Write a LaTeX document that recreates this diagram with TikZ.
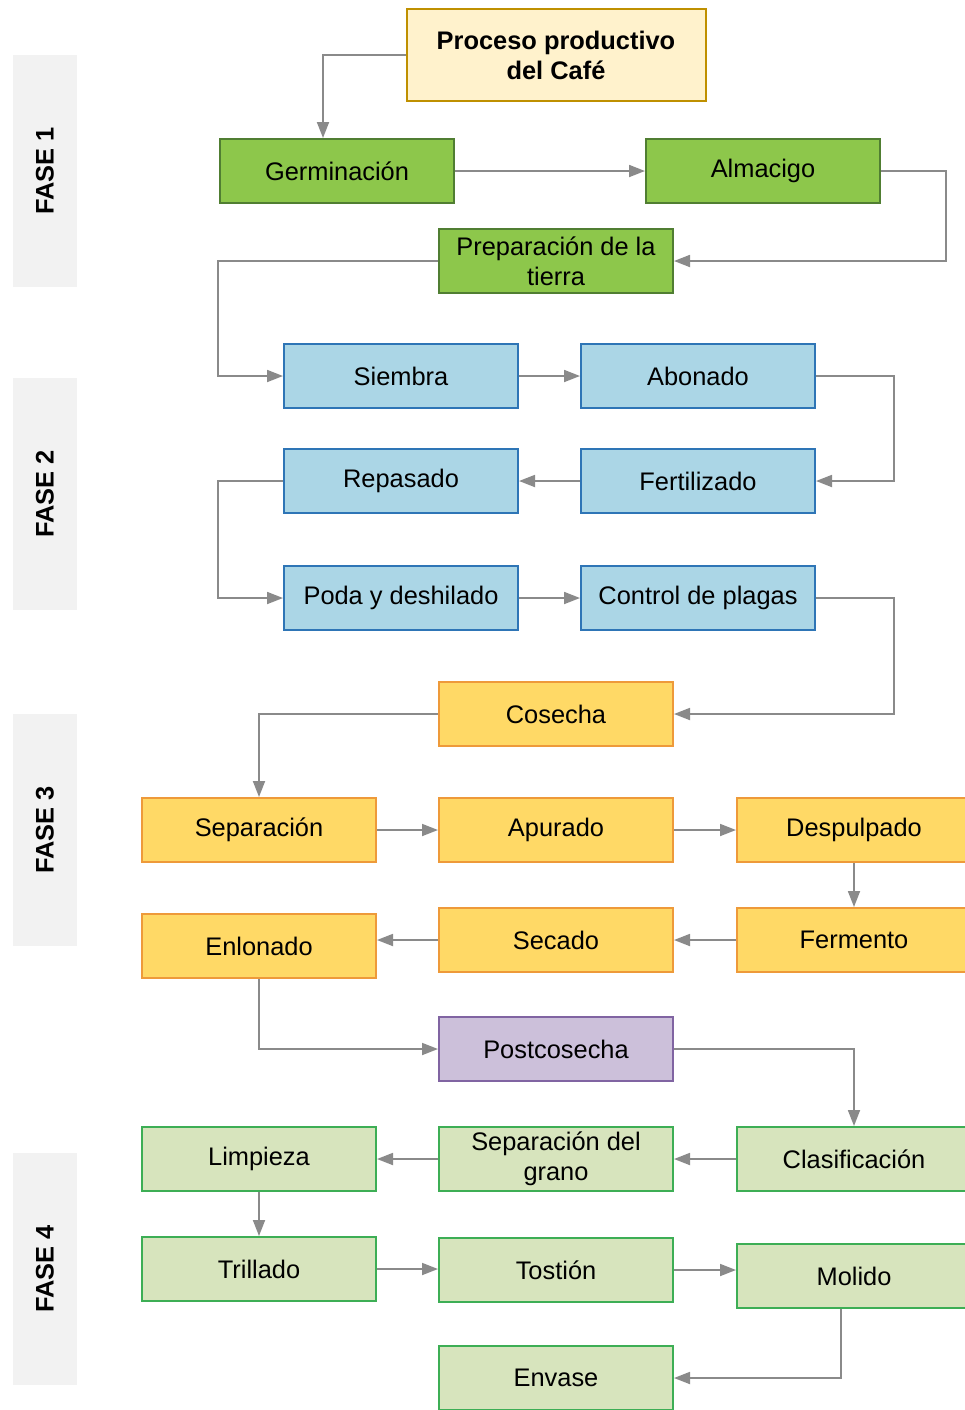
\documentclass[tikz,border=0pt]{standalone}
\usepackage{fontspec}
\setmainfont{Liberation Sans}
\usetikzlibrary{arrows.meta}

\definecolor{inicioF}{HTML}{FFF2CC}
\definecolor{inicioB}{HTML}{BF9000}
\definecolor{verdeF}{HTML}{8DC74B}
\definecolor{verdeB}{HTML}{507E32}
\definecolor{azulF}{HTML}{ABD6E6}
\definecolor{azulB}{HTML}{2E75B6}
\definecolor{naranjaF}{HTML}{FFD966}
\definecolor{naranjaB}{HTML}{EE9A3A}
\definecolor{moradoF}{HTML}{CCC0DA}
\definecolor{moradoB}{HTML}{8064A2}
\definecolor{claroF}{HTML}{D7E4BD}
\definecolor{claroB}{HTML}{3DAE55}
\definecolor{faseF}{HTML}{F2F2F2}
\definecolor{flechaC}{HTML}{8A8A8A}

\begin{document}
\begin{tikzpicture}[x=0.5pt, y=-0.5pt,
    caja/.style={draw, line width=1pt, minimum width=117pt, minimum height=32pt,
      inner sep=1pt, align=center, font=\fontsize{12.7}{15}\selectfont},
    etapaA/.style={caja, fill=verdeF, draw=verdeB},
    etapaB/.style={caja, fill=azulF, draw=azulB},
    etapaC/.style={caja, fill=naranjaF, draw=naranjaB},
    etapaD/.style={caja, fill=moradoF, draw=moradoB},
    etapaE/.style={caja, fill=claroF, draw=claroB},
    fase/.style={fill=faseF, minimum width=116pt, minimum height=32pt, rotate=90,
      font=\fontsize{12.7}{15}\selectfont\bfseries},
    flecha/.style={draw=flechaC, line width=0.9pt, -{Triangle[length=8pt,width=6pt]}}]
  \useasboundingbox (0,0) rectangle (965,1410);

  \node[fase] (f1) at (45,171) {FASE 1};
  \node[fase] (f2) at (45,494) {FASE 2};
  \node[fase] (f3) at (45,830) {FASE 3};
  \node[fase] (f4) at (45,1269) {FASE 4};

  \node[caja, fill=inicioF, draw=inicioB, minimum width=149.5pt, minimum height=46pt,
    font=\fontsize{12.7}{15}\selectfont\bfseries] (proceso) at (556,55) {Proceso productivo\\del Café};

  \node[etapaA] (germ) at (337,171) {Germinación};
  \node[etapaA] (almacigo) at (763,171) {Almacigo};
  \node[etapaA] (prep) at (556,261) {Preparación de la\\tierra};

  \node[etapaB] (siembra) at (401,376) {Siembra};
  \node[etapaB] (abonado) at (698,376) {Abonado};
  \node[etapaB] (repasado) at (401,481) {Repasado};
  \node[etapaB] (fert) at (698,481) {Fertilizado};
  \node[etapaB] (poda) at (401,598) {Poda y deshilado};
  \node[etapaB] (control) at (698,598) {Control de plagas};

  \node[etapaC] (cosecha) at (556,714) {Cosecha};
  \node[etapaC] (separacion) at (259,830) {Separación};
  \node[etapaC] (apurado) at (556,830) {Apurado};
  \node[etapaC] (despulpado) at (854,830) {Despulpado};
  \node[etapaC] (enlonado) at (259,946) {Enlonado};
  \node[etapaC] (secado) at (556,940) {Secado};
  \node[etapaC] (fermento) at (854,940) {Fermento};

  \node[etapaD] (postcosecha) at (556,1049) {Postcosecha};

  \node[etapaE] (limpieza) at (259,1159) {Limpieza};
  \node[etapaE] (sepgrano) at (556,1159) {Separación del\\grano};
  \node[etapaE] (clasif) at (854,1159) {Clasificación};
  \node[etapaE] (trillado) at (259,1269) {Trillado};
  \node[etapaE] (tostion) at (556,1270) {Tostión};
  \node[etapaE] (molido) at (854,1276) {Molido};
  \node[etapaE] (envase) at (556,1378) {Envase};

  \draw[flecha] (proceso.west) -| ([xshift=-7pt]germ.north);
  \draw[flecha] (germ) -- (almacigo);
  \draw[flecha] (almacigo.east) -- ++(65,0) |- (prep.east);
  \draw[flecha] (prep.west) -- ++(-220,0) |- (siembra.west);
  \draw[flecha] (siembra) -- (abonado);
  \draw[flecha] (abonado.east) -- ++(78,0) |- (fert.east);
  \draw[flecha] (fert) -- (repasado);
  \draw[flecha] (repasado.west) -- ++(-65,0) |- (poda.west);
  \draw[flecha] (poda) -- (control);
  \draw[flecha] (control.east) -- ++(78,0) |- (cosecha.east);
  \draw[flecha] (cosecha.west) -| (separacion.north);
  \draw[flecha] (separacion) -- (apurado);
  \draw[flecha] (apurado) -- (despulpado);
  \draw[flecha] (despulpado) -- (fermento);
  \draw[flecha] (fermento) -- (secado);
  \draw[flecha] (secado.west) -- (secado.west -| enlonado.east);
  \draw[flecha] (enlonado.south) |- (postcosecha.west);
  \draw[flecha] (postcosecha.east) -| (clasif.north);
  \draw[flecha] (clasif) -- (sepgrano);
  \draw[flecha] (sepgrano) -- (limpieza);
  \draw[flecha] (limpieza) -- (trillado);
  \draw[flecha] (trillado.east) -- (trillado.east -| tostion.west);
  \draw[flecha] (tostion.east) -- (tostion.east -| molido.west);
  \draw[flecha] ([xshift=-6.5pt]molido.south) |- (envase.east);
\end{tikzpicture}
\end{document}
